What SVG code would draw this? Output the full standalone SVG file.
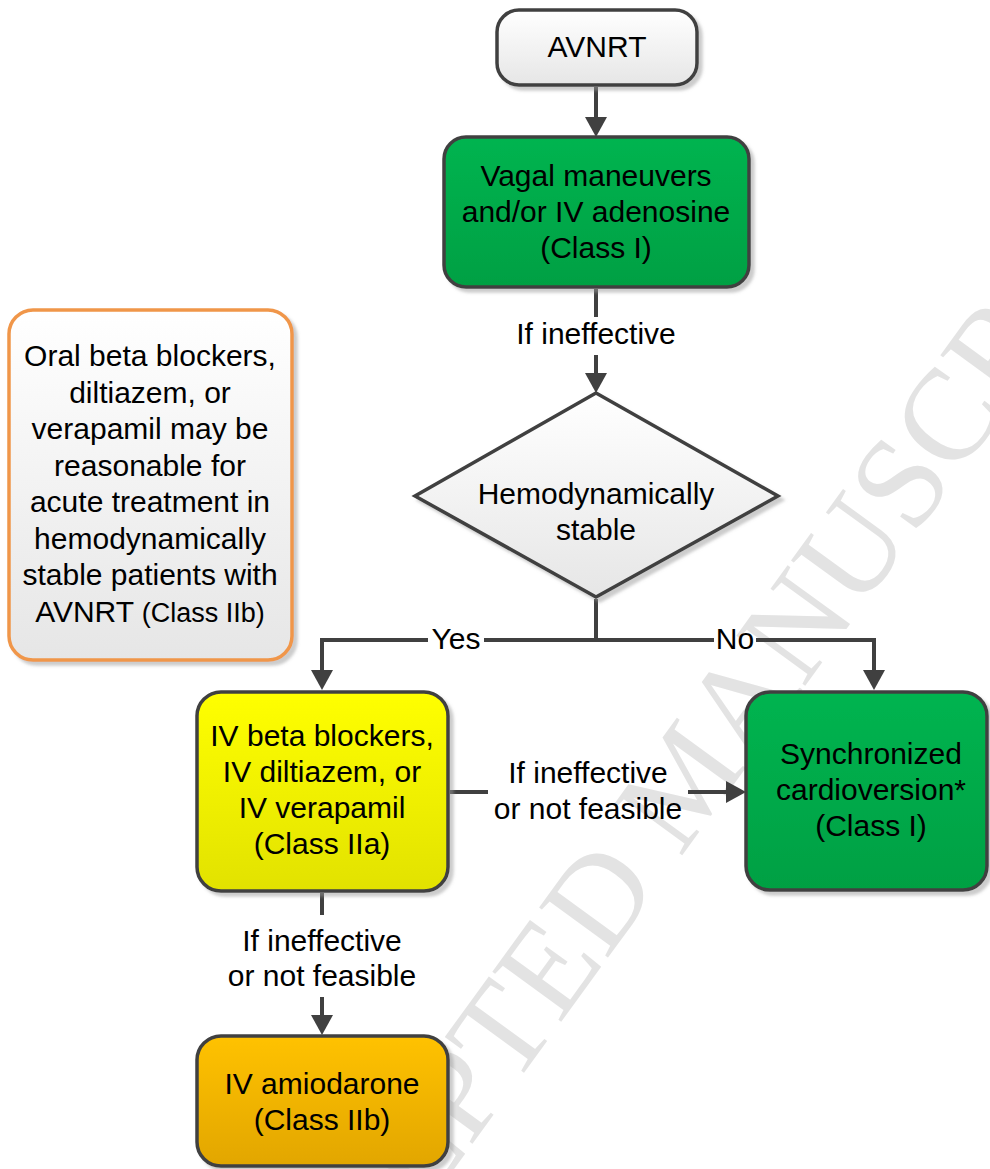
<svg xmlns="http://www.w3.org/2000/svg" width="990" height="1169" viewBox="0 0 990 1169">
<style>
text{font-family:"Liberation Sans",Arial,sans-serif;font-size:30px;fill:#000;text-anchor:middle}
.wm{font-family:"Liberation Serif","Times New Roman",serif;font-size:130px;fill:#e3e3e3;text-anchor:start}
.box{stroke:#404040;stroke-width:3.5}
.conn{fill:none;stroke:#404040;stroke-width:4}
.arr{marker-end:url(#ah)}
.sm{font-size:27px}
</style>
<defs>
<linearGradient id="gGray" x1="0" y1="0" x2="0" y2="1"><stop offset="0" stop-color="#ffffff"/><stop offset="1" stop-color="#e6e6e6"/></linearGradient>
<linearGradient id="gGreen" x1="0" y1="0" x2="0" y2="1"><stop offset="0" stop-color="#00b450"/><stop offset="1" stop-color="#00a043"/></linearGradient>
<linearGradient id="gYellow" x1="0" y1="0" x2="0" y2="1"><stop offset="0" stop-color="#ffff00"/><stop offset="1" stop-color="#e2e200"/></linearGradient>
<linearGradient id="gOrange" x1="0" y1="0" x2="0" y2="1"><stop offset="0" stop-color="#ffc200"/><stop offset="1" stop-color="#e2a600"/></linearGradient>
<filter id="sh" x="-10%" y="-10%" width="125%" height="125%"><feDropShadow dx="4" dy="4" stdDeviation="1.5" flood-color="#9a9a9a" flood-opacity="0.5"/></filter>
<marker id="ah" markerUnits="userSpaceOnUse" markerWidth="22" markerHeight="22" refX="10" refY="11" orient="auto"><path d="M0,0 L20,11 L0,22 z" fill="#404040"/></marker>
</defs>
<rect width="990" height="1169" fill="#fff"/>
<g id="watermark"><text class="wm" transform="translate(266,1428) rotate(-54)">ACCEPTED MANUSCRIPT</text></g>
<g id="connectors">
<path class="conn arr" d="M596,87 V127"/>
<path class="conn" d="M596,289 V317"/>
<path class="conn arr" d="M596,355 V383"/>
<path class="conn" d="M596,599 V640 M484,640 H714"/>
<path class="conn arr" d="M428,640 H322 V680"/>
<path class="conn arr" d="M756,640 H874 V680"/>
<path class="conn" d="M450,792 H488"/>
<path class="conn arr" d="M688,792 H736"/>
<path class="conn" d="M322,893 V915"/>
<path class="conn arr" d="M322,997 V1025"/>
</g>
<g id="labels">
<text x="596" y="344">If ineffective</text>
<text x="456" y="649">Yes</text>
<text x="735" y="649">No</text>
<text x="588" y="783">If ineffective</text>
<text x="588" y="819">or not feasible</text>
<text x="322" y="951">If ineffective</text>
<text x="322" y="986">or not feasible</text>
</g>
<g id="node-avnrt">
<rect class="box" x="497" y="10" width="200" height="75" rx="22" fill="url(#gGray)" filter="url(#sh)"/>
<text x="597" y="57">AVNRT</text>
</g>
<g id="node-vagal">
<rect class="box" x="444" y="137" width="305" height="150" rx="22" fill="url(#gGreen)" filter="url(#sh)"/>
<text x="596" y="186">Vagal maneuvers</text>
<text x="596" y="222">and/or IV adenosine</text>
<text x="596" y="258">(Class I)</text>
</g>
<g id="node-stable">
<polygon class="box" points="596,393 778,496 596,597 415,496" fill="url(#gGray)" filter="url(#sh)"/>
<text x="596" y="504">Hemodynamically</text>
<text x="596" y="540">stable</text>
</g>
<g id="node-note">
<rect x="9" y="310" width="283" height="350" rx="24" fill="url(#gGray)" stroke="#f0964a" stroke-width="3.5" filter="url(#sh)"/>
<text x="150" y="366">Oral beta blockers,</text>
<text x="150" y="402.5">diltiazem, or</text>
<text x="150" y="439">verapamil may be</text>
<text x="150" y="475.5">reasonable for</text>
<text x="150" y="512">acute treatment in</text>
<text x="150" y="548.5">hemodynamically</text>
<text x="150" y="585">stable patients with</text>
<text x="150" y="621.5">AVNRT <tspan class="sm">(Class IIb)</tspan></text>
</g>
<g id="node-ivbeta">
<rect class="box" x="197" y="692" width="251" height="199" rx="24" fill="url(#gYellow)" filter="url(#sh)"/>
<text x="322" y="746">IV beta blockers,</text>
<text x="322" y="782">IV diltiazem, or</text>
<text x="322" y="818">IV verapamil</text>
<text x="322" y="854">(Class IIa)</text>
</g>
<g id="node-cardioversion">
<rect class="box" x="746" y="692" width="241" height="198" rx="24" fill="url(#gGreen)" filter="url(#sh)"/>
<text x="871" y="764">Synchronized</text>
<text x="871" y="800">cardioversion*</text>
<text x="871" y="836">(Class I)</text>
</g>
<g id="node-amiodarone">
<rect class="box" x="197" y="1036" width="251" height="130" rx="24" fill="url(#gOrange)" filter="url(#sh)"/>
<text x="322" y="1094">IV amiodarone</text>
<text x="322" y="1130">(Class IIb)</text>
</g>
</svg>
